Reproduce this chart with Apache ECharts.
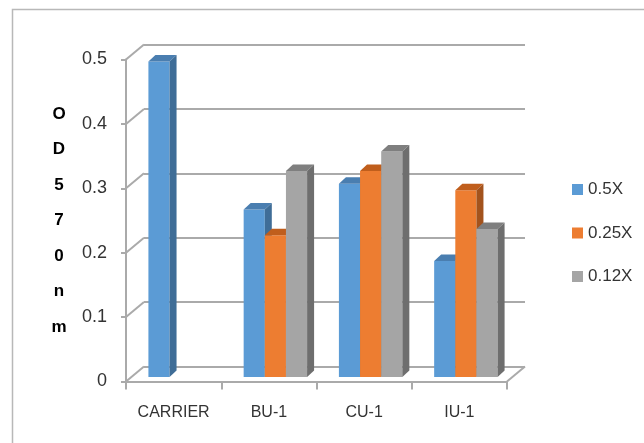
<!DOCTYPE html>
<html><head><meta charset="utf-8">
<script src="https://cdn.jsdelivr.net/npm/echarts/dist/echarts.min.js"></script>
<style>html,body{margin:0;padding:0;background:#fff}#c{width:644px;height:443px}</style>
</head><body><div id="c"></div>
<script>
// ---- data ----
const categories = ['CARRIER', 'BU-1', 'CU-1', 'IU-1'];
const seriesNames = ['0.5X', '0.25X', '0.12X'];
const values05 = [0.49, 0.26, 0.30, 0.18];
const values025 = [null, 0.22, 0.32, 0.29];
const values012 = [null, 0.32, 0.35, 0.23];
const yTicks = [0, 0.1, 0.2, 0.3, 0.4, 0.5];
const yTitle = 'O\nD\n5\n7\n0\nn\nm';

// ---- styles ----
const FONT = 'Liberation Sans';
const GRID_COLOR = '#aaaaaa';
const TEXT_COLOR = '#333333';
const frontColors = ['#5b9bd5', '#ed7d31', '#a5a5a5'];
const sideColors = ['#3f6d97', '#a3531d', '#6e6e6e'];
const topColors = ['#4a7eb0', '#c05e1c', '#7f7f7f'];
const WALL_DX = 18, WALL_DY = 15;
const CAP_DX = 7, CAP_DY = 6.5;
const BAR_FRAC = 0.222;

const allValues = [values05, values025, values012];

function barRender(k) {
  return function (params, api) {
    const cat = api.value(0), v = api.value(1);
    const band = api.size([1, 0])[0];
    const bw = band * BAR_FRAC;
    const c = api.coord([cat, v]);
    const b = api.coord([cat, 0]);
    const x0 = c[0] - 1.5 * bw + k * bw;
    const top = c[1], bot = b[1];
    return {
      type: 'group',
      children: [
        { type: 'rect', shape: { x: x0, y: top, width: bw, height: bot - top },
          style: { fill: frontColors[k] } },
        { type: 'polygon', shape: { points: [[x0, top], [x0 + CAP_DX, top - CAP_DY], [x0 + bw + CAP_DX, top - CAP_DY], [x0 + bw, top]] },
          style: { fill: topColors[k] } },
        { type: 'polygon', shape: { points: [[x0 + bw, top], [x0 + bw + CAP_DX, top - CAP_DY], [x0 + bw + CAP_DX, bot - CAP_DY], [x0 + bw, bot]] },
          style: { fill: sideColors[k] } }
      ]
    };
  };
}

function wallRender(params, api) {
  const v = api.value(1);
  const cs = params.coordSys;
  const p = api.coord([0, v]);
  const children = [{
    type: 'line',
    shape: { x1: cs.x, y1: p[1], x2: cs.x - WALL_DX, y2: p[1] + WALL_DY },
    style: { stroke: GRID_COLOR, lineWidth: 2 }
  }];
  if (v === 0) {
    const xr = cs.x + cs.width;
    children.push({
      type: 'line',
      shape: { x1: xr, y1: p[1], x2: xr - WALL_DX, y2: p[1] + WALL_DY },
      style: { stroke: GRID_COLOR, lineWidth: 2 }
    });
  }
  return { type: 'group', children: children };
}

const series = [{
  type: 'custom', xAxisIndex: 1, yAxisIndex: 1, silent: true,
  renderItem: wallRender,
  data: yTicks.map(v => [0, v]),
  z: 1
}];
allValues.forEach((arr, k) => {
  series.push({
    type: 'custom', name: seriesNames[k], xAxisIndex: 2, yAxisIndex: 2,
    renderItem: barRender(k),
    itemStyle: { color: frontColors[k] },
    data: arr.map((v, i) => v == null ? null : [i, v]).filter(d => d),
    z: 3
  });
});

const chart = echarts.init(document.getElementById('c'), null, { renderer: 'canvas' });
chart.setOption({
  animation: false,
  backgroundColor: '#ffffff',
  textStyle: { fontFamily: FONT },
  graphic: [{
    type: 'rect', silent: true,
    shape: { x: 12.5, y: 9.5, width: 800, height: 600 },
    style: { fill: 'none', stroke: '#b8b8b8', lineWidth: 1.5 }
  }],
  legend: {
    orient: 'vertical', left: 567, top: 176,
    itemWidth: 11, itemHeight: 11, itemGap: 26.5, icon: 'rect',
    data: seriesNames,
    textStyle: { fontFamily: FONT, fontSize: 17, color: TEXT_COLOR }
  },
  grid: [
    { left: 126, right: 137, top: 59.5, height: 322 },   // front
    { left: 144, right: 119, top: 44.5, height: 322 },   // back wall
    { left: 132.5, right: 130.5, top: 55, height: 322 }  // bars (mid depth)
  ],
  xAxis: [
    { gridIndex: 0, type: 'category', data: categories, boundaryGap: true,
      axisLine: { show: true, lineStyle: { color: GRID_COLOR, width: 2 } },
      axisTick: { show: true, length: 8, interval: 0, lineStyle: { color: GRID_COLOR, width: 2 } },
      axisLabel: { fontFamily: FONT, fontSize: 16, color: TEXT_COLOR, margin: 23, interval: 0 } },
    { gridIndex: 1, type: 'category', data: categories, show: false },
    { gridIndex: 2, type: 'category', data: categories, show: false }
  ],
  yAxis: [
    { gridIndex: 0, type: 'value', min: 0, max: 0.5, interval: 0.1,
      axisLine: { show: true, lineStyle: { color: GRID_COLOR, width: 2 } },
      axisTick: { show: true, length: 5, lineStyle: { color: GRID_COLOR, width: 2 } },
      splitLine: { show: false },
      axisLabel: { fontFamily: FONT, fontSize: 18, color: TEXT_COLOR, margin: 19,
        formatter: v => String(+v.toFixed(1)) },
      name: yTitle, nameLocation: 'middle', nameRotate: 0, nameGap: 67,
      nameTextStyle: { fontFamily: FONT, fontSize: 17, fontWeight: 'bold', color: '#000',
        lineHeight: 35.5, align: 'center', verticalAlign: 'middle', padding: [10, 0, 0, 0] } },
    { gridIndex: 1, type: 'value', min: 0, max: 0.5, interval: 0.1,
      axisLine: { show: false }, axisTick: { show: false }, axisLabel: { show: false },
      splitLine: { show: true, lineStyle: { color: GRID_COLOR, width: 2 } } },
    { gridIndex: 2, type: 'value', min: 0, max: 0.5, interval: 0.1, show: false,
      splitLine: { show: false } }
  ],
  series: series
});
</script>
</body></html>
